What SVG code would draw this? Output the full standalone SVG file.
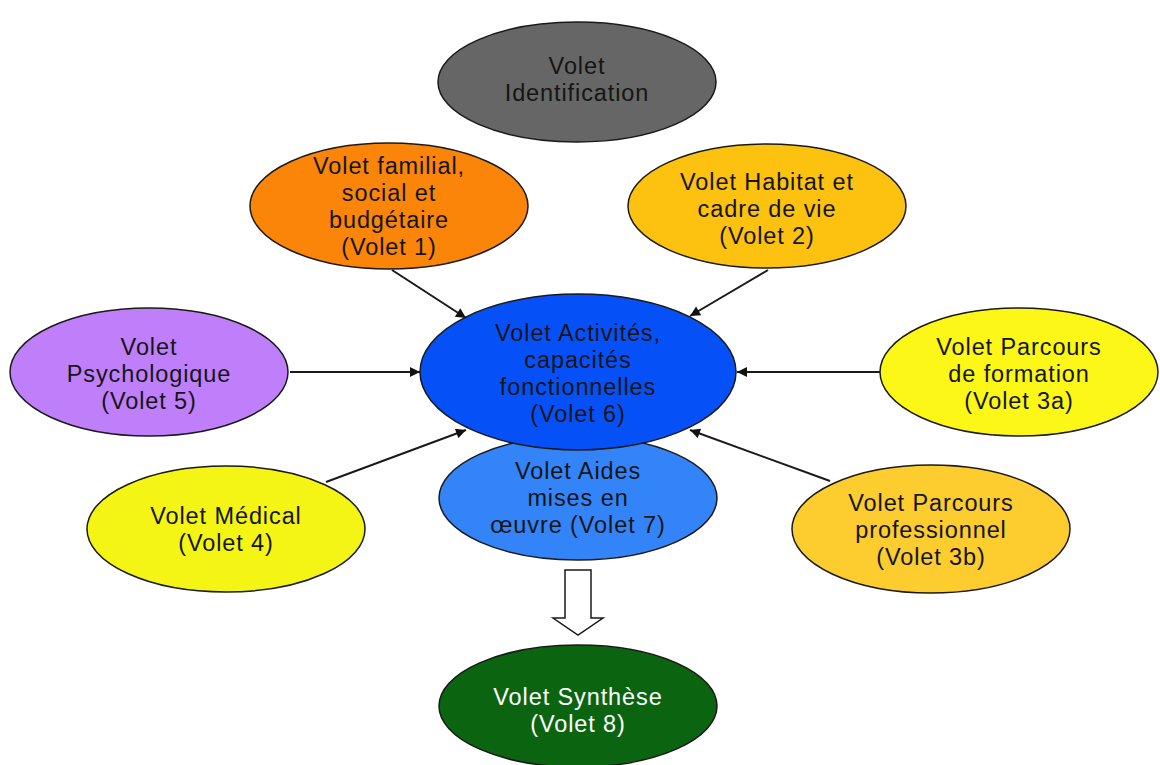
<svg xmlns="http://www.w3.org/2000/svg" width="1160" height="765" viewBox="0 0 1160 765">
<style>
.n{stroke:#1a1a1a;stroke-width:1.5}
.t{font-family:"Liberation Sans",Arial,sans-serif;font-size:23.5px;letter-spacing:0.9px;fill:#151515;text-anchor:middle}
.w{fill:#fff}
.c{stroke:#1a1a1a;stroke-width:2;fill:none;marker-end:url(#ah)}
</style>
<defs>
<marker id="ah" viewBox="0 0 10 10" refX="10" refY="5" markerWidth="12" markerHeight="10" markerUnits="userSpaceOnUse" orient="auto"><path d="M0,0 L10,5 L0,10 z" fill="#111"/></marker>
</defs>
<rect width="1160" height="765" fill="#fff"/>
<g id="n-identification"><ellipse class="n" cx="577" cy="82" rx="139" ry="60" fill="#666666"/><text class="t"><tspan x="577" y="74">Volet</tspan><tspan x="577" y="101">Identification</tspan></text></g>
<g id="n-volet1"><ellipse class="n" cx="389" cy="206" rx="139" ry="63" fill="#fb8509"/><text class="t"><tspan x="389" y="174">Volet familial,</tspan><tspan x="389" y="201">social et</tspan><tspan x="389" y="228">budgétaire</tspan><tspan x="389" y="255">(Volet 1)</tspan></text></g>
<g id="n-volet2"><ellipse class="n" cx="767" cy="206" rx="139" ry="62" fill="#fdc10f"/><text class="t"><tspan x="767" y="190">Volet Habitat et</tspan><tspan x="767" y="217">cadre de vie</tspan><tspan x="767" y="244">(Volet 2)</tspan></text></g>
<g id="n-volet5"><ellipse class="n" cx="149" cy="372" rx="139" ry="64" fill="#bf7ffb"/><text class="t"><tspan x="149" y="355">Volet</tspan><tspan x="149" y="382">Psychologique</tspan><tspan x="149" y="409">(Volet 5)</tspan></text></g>
<g id="n-volet3a"><ellipse class="n" cx="1019" cy="372" rx="139" ry="64" fill="#fcf716"/><text class="t"><tspan x="1019" y="355">Volet Parcours</tspan><tspan x="1019" y="382">de formation</tspan><tspan x="1019" y="409">(Volet 3a)</tspan></text></g>
<g id="n-volet4"><ellipse class="n" cx="226" cy="529" rx="139" ry="63" fill="#f4f514"/><text class="t"><tspan x="226" y="524">Volet Médical</tspan><tspan x="226" y="551">(Volet 4)</tspan></text></g>
<g id="n-volet7"><ellipse class="n" cx="578" cy="498" rx="139" ry="62" fill="#3384f8"/><text class="t"><tspan x="578" y="479">Volet Aides</tspan><tspan x="578" y="506">mises en</tspan><tspan x="578" y="533">œuvre (Volet 7)</tspan></text></g>
<g id="n-volet3b"><ellipse class="n" cx="931" cy="529" rx="139" ry="64" fill="#fdcc2f"/><text class="t"><tspan x="931" y="511">Volet Parcours</tspan><tspan x="931" y="538">professionnel</tspan><tspan x="931" y="565">(Volet 3b)</tspan></text></g>
<g id="n-volet6"><ellipse class="n" cx="578" cy="372" rx="158" ry="78" fill="#0651f7"/><text class="t"><tspan x="578" y="341">Volet Activités,</tspan><tspan x="578" y="368">capacités</tspan><tspan x="578" y="395">fonctionnelles</tspan><tspan x="578" y="422">(Volet 6)</tspan></text></g>
<g id="n-volet8"><ellipse class="n" cx="578" cy="706" rx="139" ry="61" fill="#0b6410"/><text class="t w"><tspan x="578" y="705">Volet Synthèse</tspan><tspan x="578" y="732">(Volet 8)</tspan></text></g>
<g id="connectors">
<line class="c" x1="392" y1="270" x2="466" y2="318"/>
<line class="c" x1="768" y1="270" x2="690" y2="316"/>
<line class="c" x1="290" y1="372" x2="420" y2="372"/>
<line class="c" x1="880" y1="372" x2="737" y2="372"/>
<line class="c" x1="326" y1="482" x2="466" y2="430"/>
<line class="c" x1="830" y1="481" x2="690" y2="430"/>
<path d="M565,570 H591 V618 H603 L578,635 L553,618 H565 Z" fill="#fff" stroke="#1a1a1a" stroke-width="1.5"/>
</g>
</svg>
